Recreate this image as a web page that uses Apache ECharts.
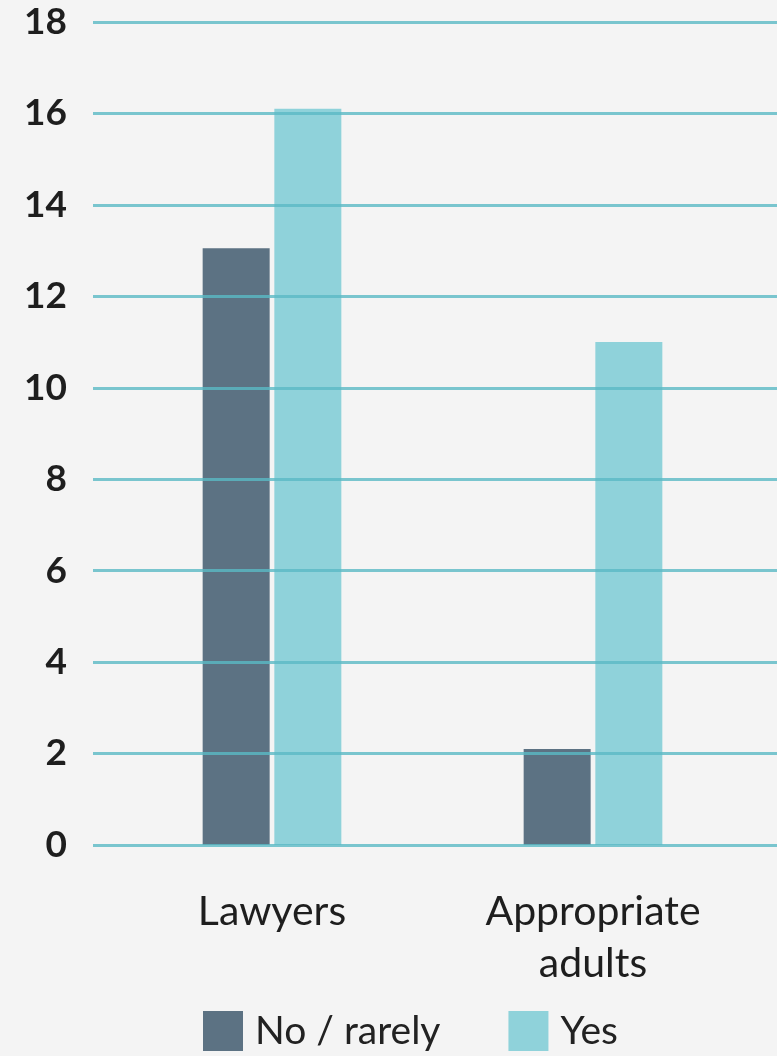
<!DOCTYPE html>
<html>
<head>
<meta charset="utf-8">
<script src="https://cdn.jsdelivr.net/npm/echarts@6/dist/echarts.min.js"></script>
<style>
html,body{margin:0;padding:0;background:#f4f4f4;}
#chart{width:777px;height:1056px;}
</style>
</head>
<body>
<div id="chart"></div>
<script>
const categories = ['Lawyers', 'Appropriate\nadults'];
const seriesNames = ['No / rarely', 'Yes'];
const noRarely = [13.05, 2.1];
const yes = [16.1, 11];
const yTicks = [0, 18, 2];

const chart = echarts.init(document.getElementById('chart'));
const font = 'Lato';
chart.setOption({
  backgroundColor: '#f4f4f4',
  animation: false,
  textStyle: { fontFamily: font },
  legend: {
    data: seriesNames,
    left: 203,
    top: 1011,
    padding: 0,
    itemWidth: 40,
    itemHeight: 40,
    itemGap: 68,
    icon: 'rect',
    textStyle: { fontFamily: font, fontSize: 39, color: '#222', padding: [0, 0, 0, 7] }
  },
  grid: [
    { left: 93, right: 0, top: 22, bottom: 211, containLabel: false },
    { left: 111.5, width: 642, top: 22, bottom: 211, containLabel: false }
  ],
  xAxis: [
    { gridIndex: 0, type: 'value', show: false, min: 0, max: 1 },
    {
      gridIndex: 1, type: 'category', data: categories,
      axisLine: { show: false }, axisTick: { show: false },
      axisLabel: { fontFamily: font, fontSize: 41, color: '#1e1e1e', margin: 41, lineHeight: 52 }
    }
  ],
  yAxis: [
    {
      gridIndex: 0, type: 'value', min: yTicks[0], max: yTicks[1], interval: yTicks[2], z: 10,
      axisLine: { show: false }, axisTick: { show: false },
      axisLabel: { fontFamily: font, fontWeight: 'bold', fontSize: 37, color: '#1e1e1e', margin: 26 },
      splitLine: { show: true, lineStyle: { color: 'rgba(90,185,196,0.8)', width: 3 } }
    },
    {
      gridIndex: 1, type: 'value', min: yTicks[0], max: yTicks[1], interval: yTicks[2],
      show: false, splitLine: { show: false }
    }
  ],
  series: [
    {
      name: seriesNames[0], type: 'bar', xAxisIndex: 1, yAxisIndex: 1,
      data: noRarely, barWidth: 67, barGap: '7%',
      itemStyle: { color: '#5c7283' }
    },
    {
      name: seriesNames[1], type: 'bar', xAxisIndex: 1, yAxisIndex: 1,
      data: yes, barWidth: 67, barGap: '7%',
      itemStyle: { color: '#8fd2da' }
    }
  ]
});
</script>
</body>
</html>
